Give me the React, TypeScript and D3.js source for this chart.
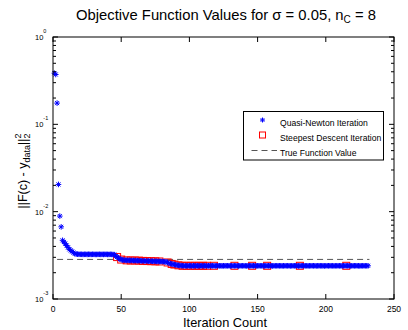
import React from 'react';
import * as d3 from 'd3';

const W = 408;
const H = 330;
const PLOT = { left: 53, top: 37, right: 394, bottom: 299 };

const xTicks = [0, 50, 100, 150, 200, 250];
const yDecades = [-3, -2, -1, 0];
const yTickLabels = ['-3', '-2', '-1', '0'];

// Quasi-Newton objective values for iterations 1, 2, 3, ...
const qnValues = [
  0.385, 0.372, 0.175, 0.0205, 0.0089, 0.0067, 0.0047, 0.0045, 0.0043, 0.0041,
  0.0039, 0.0037, 0.0036, 0.0035, 0.0034, 0.0033, 0.00328, 0.00326, 0.00325, 0.00325,
  0.00325, 0.00324, 0.00325, 0.00325, 0.00324, 0.00325, 0.00325, 0.00324, 0.00325, 0.00325,
  0.00324, 0.00324, 0.00325, 0.00325, 0.00324, 0.00325, 0.00324, 0.00325, 0.00325, 0.00324,
  0.00324, 0.00325, 0.00324, 0.00323, 0.00322, 0.0031, 0.00302, 0.00294, 0.00288, 0.00283,
  0.0028, 0.00278, 0.00278, 0.00277, 0.00277, 0.00277, 0.00276, 0.00276, 0.00276, 0.00275,
  0.00275, 0.00275, 0.00274, 0.00274, 0.00273, 0.00273, 0.00273, 0.00272, 0.00272, 0.00272,
  0.00271, 0.00271, 0.00271, 0.0027, 0.0027, 0.0027, 0.00269, 0.00269, 0.00269, 0.00268,
  0.00268, 0.00267, 0.00266, 0.00262, 0.00258, 0.00255, 0.00252, 0.0025, 0.00248, 0.00246,
  0.00244, 0.00243, 0.00242, 0.00241, 0.0024, 0.0024, 0.0024, 0.00239, 0.0024, 0.0024,
  0.0024, 0.00239, 0.0024, 0.0024, 0.0024, 0.0024, 0.00239, 0.0024, 0.0024, 0.0024,
  0.0024, 0.0024, 0.00239, 0.0024, 0.0024, 0.0024, 0.0024, 0.0024, 0.00239, 0.0024,
  0.0024, 0.0024, 0.0024, 0.00239, 0.0024, 0.0024, 0.0024, 0.0024, 0.0024, 0.00239,
  0.0024, 0.0024, 0.0024, 0.0024, 0.0024, 0.00239, 0.0024, 0.0024, 0.0024, 0.0024,
  0.0024, 0.00239, 0.0024, 0.0024, 0.0024, 0.0024, 0.0024, 0.0024, 0.00239, 0.0024,
  0.0024, 0.0024, 0.0024, 0.0024, 0.00239, 0.0024, 0.0024, 0.0024, 0.0024, 0.0024,
  0.00239, 0.0024, 0.0024, 0.0024, 0.0024, 0.0024, 0.0024, 0.00239, 0.0024, 0.0024,
  0.0024, 0.0024, 0.0024, 0.00239, 0.0024, 0.0024, 0.0024, 0.0024, 0.0024, 0.00239,
  0.0024, 0.0024, 0.0024, 0.0024, 0.0024, 0.0024, 0.00239, 0.0024, 0.0024, 0.0024,
  0.0024, 0.0024, 0.00239, 0.0024, 0.0024, 0.0024, 0.0024, 0.0024, 0.00239, 0.0024,
  0.0024, 0.0024, 0.0024, 0.0024, 0.0024, 0.00239, 0.0024, 0.0024, 0.0024, 0.0024,
  0.0024, 0.00239, 0.0024, 0.0024, 0.0024, 0.0024, 0.0024, 0.00239, 0.0024, 0.0024,
  0.0024, 0.0024, 0.0024, 0.0024, 0.00239, 0.0024, 0.0024, 0.0024, 0.0024, 0.0024,
  0.0024,
];

// Steepest descent iterations and their values
const sdIterations = [47, 50, 54, 57, 60, 63, 66, 69, 72, 75, 78, 84, 87, 89, 92, 95, 98, 101, 104, 107, 110, 113, 118, 133, 146, 157, 181, 215];
const sdValues = [0.00302, 0.00283, 0.00277, 0.00276, 0.00276, 0.00275, 0.00273, 0.00272, 0.00271, 0.0027, 0.00269, 0.00262, 0.00252, 0.00248, 0.00243, 0.0024, 0.0024, 0.0024, 0.0024, 0.0024, 0.0024, 0.0024, 0.0024, 0.0024, 0.0024, 0.0024, 0.0024, 0.0024];

const trueValue = 0.00284;
const trueRange = [3, 232];

const legendLabels = ['Quasi-Newton Iteration', 'Steepest Descent Iteration', 'True Function Value'];

const FONT = 'Liberation Sans, Arial, Helvetica, sans-serif';

function asterisk(cx: number, cy: number, r: number) {
  const d = r * 0.72;
  return `M${cx - r},${cy}H${cx + r}M${cx},${cy - r}V${cy + r}M${cx - d},${cy - d}L${cx + d},${cy + d}M${cx - d},${cy + d}L${cx + d},${cy - d}`;
}

export default function App() {
  const x = d3.scaleLinear().domain([0, 250]).range([PLOT.left, PLOT.right]);
  const y = d3.scaleLog().domain([1e-3, 1]).range([PLOT.bottom, PLOT.top]);

  const minor: number[] = [];
  for (const dec of yDecades.slice(0, 3)) {
    for (let k = 2; k <= 9; k++) minor.push(k * Math.pow(10, dec));
  }

  const qnPath = qnValues.map((v, i) => asterisk(x(i + 1), y(v), 2.8)).join('');
  const lx = 243.5, ly = 111.5, lw = 140, lh = 48.5;

  return (
    <svg width={W} height={H} style={{ position: 'absolute', left: 0, top: 0, background: '#fff' }} fontFamily={FONT}>
      <rect x={0} y={0} width={W} height={H} fill="#fff" />
      {/* title */}
      <text x={226} y={19.5} fontSize={14.8} textAnchor="middle">
        Objective Function Values for σ = 0.05, n<tspan fontSize={10} dy={3}>C</tspan><tspan dy={-3}> = 8</tspan>
      </text>

      {/* true value line */}
      <line x1={x(trueRange[0])} x2={x(trueRange[1])} y1={y(trueValue)} y2={y(trueValue)} stroke="#555" strokeWidth={1} strokeDasharray="6,4" />

      {/* steepest descent squares */}
      {sdIterations.map((it, i) => (
        <rect key={'sd' + i} x={x(it) - 3.5} y={y(sdValues[i]) - 3.5} width={7} height={7} fill="none" stroke="#ff0000" strokeWidth={1} />
      ))}

      {/* quasi newton asterisks */}
      <path d={qnPath} stroke="#0000ff" strokeWidth={1} fill="none" />

      {/* axes box */}
      <rect x={PLOT.left} y={PLOT.top} width={PLOT.right - PLOT.left} height={PLOT.bottom - PLOT.top} fill="none" stroke="#000" strokeWidth={1} />

      {/* x ticks */}
      {xTicks.map((t) => (
        <g key={'xt' + t}>
          <line x1={x(t)} x2={x(t)} y1={PLOT.bottom} y2={PLOT.bottom - 5} stroke="#000" />
          <line x1={x(t)} x2={x(t)} y1={PLOT.top} y2={PLOT.top + 5} stroke="#000" />
          <text x={x(t)} y={312} fontSize={8.5} textAnchor="middle">{t}</text>
        </g>
      ))}

      {/* y ticks */}
      {yDecades.map((d, i) => (
        <g key={'yt' + d}>
          <line x1={PLOT.left} x2={PLOT.left + 5} y1={y(Math.pow(10, d))} y2={y(Math.pow(10, d))} stroke="#000" />
          <line x1={PLOT.right} x2={PLOT.right - 5} y1={y(Math.pow(10, d))} y2={y(Math.pow(10, d))} stroke="#000" />
          <text x={35} y={y(Math.pow(10, d)) + 3} fontSize={7.5}>
            10<tspan fontSize={5.5} dy={-7}>{yTickLabels[i]}</tspan>
          </text>
        </g>
      ))}
      {minor.map((v, i) => (
        <g key={'ym' + i}>
          <line x1={PLOT.left} x2={PLOT.left + 3} y1={y(v)} y2={y(v)} stroke="#000" />
          <line x1={PLOT.right} x2={PLOT.right - 3} y1={y(v)} y2={y(v)} stroke="#000" />
        </g>
      ))}

      {/* axis labels */}
      <text x={225} y={327} fontSize={12.8} textAnchor="middle">Iteration Count</text>
      <text transform="translate(27,171) rotate(-90)" fontSize={12.5} textAnchor="middle">
        ||F(c) - y<tspan fontSize={9} dy={3}>data</tspan><tspan dy={-3}>||</tspan><tspan fontSize={9} dy={3}>2</tspan><tspan fontSize={9} dx={-5} dy={-9}>2</tspan>
      </text>

      {/* legend */}
      <rect x={lx} y={ly} width={lw} height={lh} fill="#fff" stroke="#000" strokeWidth={1} />
      <path d={asterisk(262.5, 120, 2.5)} stroke="#0000ff" strokeWidth={1} fill="none" />
      <rect x={259.5} y={132} width={6} height={6} fill="none" stroke="#ff0000" strokeWidth={1} />
      <line x1={251.5} x2={277} y1={150.5} y2={150.5} stroke="#555" strokeDasharray="6,4" />
      {legendLabels.map((l, i) => (
        <text key={l} x={280} y={126 + i * 15} fontSize={8.6} fill="#000">{l}</text>
      ))}
    </svg>
  );
}
